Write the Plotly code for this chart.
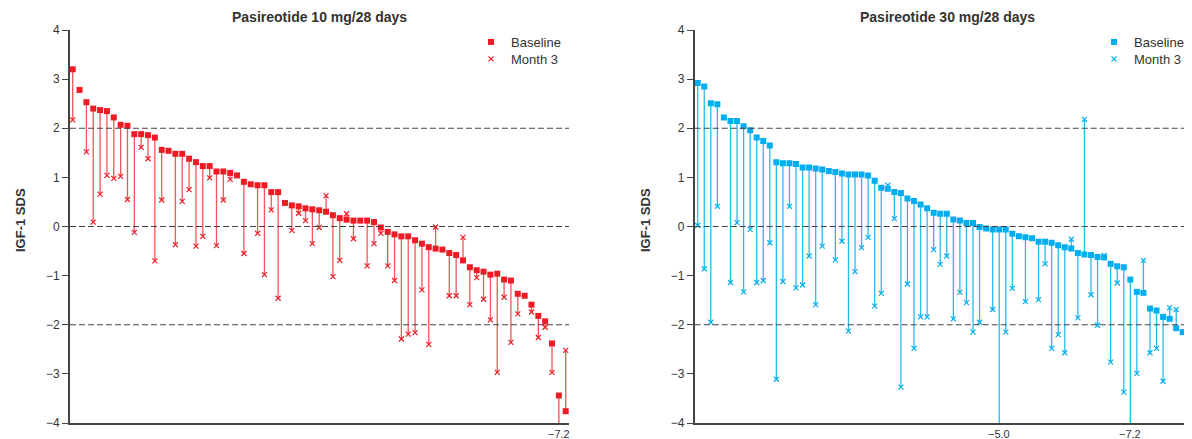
import plotly.graph_objects as go

# ---- Data: Pasireotide 10 mg/28 days (patients sorted by baseline IGF-1 SDS) ----
base_10 = [3.20, 2.78, 2.53, 2.40, 2.37, 2.35, 2.22, 2.07, 2.05, 1.88,
           1.88, 1.86, 1.81, 1.56, 1.54, 1.48, 1.48, 1.38, 1.31, 1.23,
           1.23, 1.12, 1.12, 1.09, 1.04, 0.91, 0.86, 0.84, 0.84, 0.70,
           0.70, 0.48, 0.43, 0.41, 0.37, 0.35, 0.33, 0.30, 0.23, 0.17,
           0.14, 0.12, 0.12, 0.12, 0.09, -0.02, -0.11, -0.16, -0.20, -0.20,
           -0.28, -0.35, -0.42, -0.45, -0.47, -0.54, -0.58, -0.69, -0.83, -0.89,
           -0.92, -0.98, -0.96, -1.08, -1.10, -1.37, -1.41, -1.59, -1.82, -1.93,
           -2.38, -3.44, -3.76]
m3_10 = [2.17, None, 1.52, 0.09, 0.66, 1.04, 0.98, 1.02, 0.55, -0.12,
         1.61, 1.38, -0.70, 0.54, None, -0.37, 0.51, 0.75, -0.40, -0.20,
         0.99, -0.39, 0.54, 0.96, None, -0.55, None, -0.14, -0.98, 0.34,
         -1.46, None, -0.08, 0.27, 0.12, -0.35, -0.02, 0.63, -1.02, -0.69,
         0.26, -0.25, None, -0.80, -0.35, -0.14, -0.80, -1.10, -2.29, -2.19,
         -2.16, -1.29, -2.40, -0.01, None, -1.41, -1.41, -0.22, -1.59, -1.04,
         -1.48, -1.90, -2.97, -1.44, -2.36, -1.78, None, -1.74, -2.26, -2.05,
         -2.97, -7.2, -2.52]

# ---- Data: Pasireotide 30 mg/28 days ----
base_30 = [2.92, 2.85, 2.51, 2.49, 2.22, 2.15, 2.15, 2.04, 1.96, 1.81,
           1.74, 1.65, 1.31, 1.29, 1.29, 1.27, 1.20, 1.20, 1.18, 1.16,
           1.13, 1.11, 1.08, 1.06, 1.06, 1.06, 1.04, 0.93, 0.79, 0.77,
           0.70, 0.68, 0.57, 0.52, 0.45, 0.37, 0.28, 0.26, 0.26, 0.14,
           0.12, 0.07, 0.07, -0.01, -0.04, -0.06, -0.06, -0.06, -0.15, -0.20,
           -0.22, -0.24, -0.31, -0.31, -0.33, -0.38, -0.42, -0.45, -0.54, -0.57,
           -0.58, -0.62, -0.63, -0.76, -0.81, -0.83, -1.08, -1.33, -1.35, -1.67,
           -1.71, -1.84, -1.88, -2.07, -2.15, -2.47]
m3_30 = [0.02, -0.86, -1.95, 0.41, None, -1.14, 0.08, -1.33, -0.06, -1.14,
         -1.10, -0.33, -3.11, -1.12, 0.41, -1.25, -1.19, -0.60, -1.59, -0.40,
         None, -0.68, -0.30, -2.13, -0.92, -0.43, -0.22, -1.62, -1.36, 0.84,
         0.16, -3.27, -1.17, -2.48, -1.84, -1.84, -0.47, -0.77, -0.60, -1.88,
         -1.34, -1.55, -2.15, -1.95, None, -1.69, -5.0, -2.15, -1.26, None,
         -1.53, None, -1.49, -0.76, -2.48, -2.20, -2.57, -0.26, -1.86, 2.18,
         -1.39, -2.01, -0.59, -2.76, -1.15, -3.37, -7.2, -2.99, -0.69, -2.57,
         -2.48, -3.15, -1.65, -1.69, None, -3.89]

titles = ["Pasireotide 10 mg/28 days", "Pasireotide 30 mg/28 days"]
series_names = ["Baseline", "Month 3"]
y_ticks = [-4, -3, -2, -1, 0, 1, 2, 3, 4]
ref_lines = [2, 0, -2]

# page body has an 8px margin, so the figure is sized/offset accordingly
W, H = 1184, 431
TOP, BOT = 22, 16
PH = H - TOP - BOT  # plot height in px
RED = "#ED1C24"
BLUE = "#00AEEF"
FONT = "Liberation Sans, Arial, sans-serif"


def py(px_from_top):
    """figure pixel (from top) -> paper y"""
    return (H - BOT - px_from_top) / PH


panels = [
    dict(base=base_10, m3=m3_10, color=RED, stem="rgba(237,28,36,0.75)",
         xa="x", ya="y", dom=[62 / W, 561 / W], xr=[0.606, 73.48],
         legends=["legend", "legend2"], lx=463, tx=(62 + 561) / 2),
    dict(base=base_30, m3=m3_30, color=BLUE, stem="rgba(0,174,239,0.85)",
         xa="x2", ya="y2", dom=[686.7 / W, 1.0], xr=[0.542, 76.41],
         legends=["legend3", "legend4"], lx=1086, tx=(686.7 + 1192) / 2),
]

fig = go.Figure()
annotations = []
shapes = []
legend_layout = {}

for k, p in enumerate(panels):
    n = len(p["base"])
    xs = list(range(1, n + 1))
    sx, sy = [], []
    for i, (b, m) in enumerate(zip(p["base"], p["m3"])):
        if m is None:
            continue
        sx += [xs[i], xs[i], None]
        sy += [b, m, None]
    fig.add_trace(go.Scatter(x=sx, y=sy, mode="lines", xaxis=p["xa"], yaxis=p["ya"],
                             line=dict(color=p["stem"], width=1.3),
                             showlegend=False, hoverinfo="skip"))
    fig.add_trace(go.Scatter(x=xs, y=p["m3"], mode="markers", name=series_names[1],
                             xaxis=p["xa"], yaxis=p["ya"], legend=p["legends"][1],
                             marker=dict(symbol="x-thin", size=5, color=p["color"],
                                         line=dict(color=p["color"], width=1.2))))
    fig.add_trace(go.Scatter(x=xs, y=p["base"], mode="markers", name=series_names[0],
                             xaxis=p["xa"], yaxis=p["ya"], legend=p["legends"][0],
                             marker=dict(symbol="square", size=6, color=p["color"],
                                         line=dict(width=0))))
    for j, lg in enumerate(p["legends"]):
        legend_layout[lg] = dict(x=p["lx"] / W, y=py(34 + 17 * j), xanchor="left",
                                 yanchor="middle", bgcolor="rgba(0,0,0,0)",
                                 font=dict(size=13, color="#333", family=FONT),
                                 itemwidth=30)
    # off-scale values labelled under the axis
    for i, m in enumerate(p["m3"]):
        if m is not None and m < y_ticks[0]:
            annotations.append(dict(x=xs[i], y=y_ticks[0], xref=p["xa"], yref=p["ya"],
                                    text="\u2212%.1f" % abs(m), showarrow=False,
                                    yanchor="middle", xanchor="center",
                                    yshift=-11, font=dict(size=11, color="#333", family=FONT)))
    for v in ref_lines:
        shapes.append(dict(type="line", xref=p["xa"] + " domain", yref=p["ya"],
                           x0=0, x1=1, y0=v, y1=v,
                           line=dict(color="#444", width=1.1, dash="6px,3px")))
    annotations.append(dict(x=p["tx"] / W, y=py(9), xref="paper", yref="paper",
                            xanchor="center", yanchor="middle",
                            text="<b>%s</b>" % titles[k], showarrow=False,
                            font=dict(size=14, color="#333", family=FONT)))
    annotations.append(dict(x=(12 if k == 0 else 637) / W, y=py(212), xref="paper",
                            yref="paper", xanchor="center", yanchor="middle",
                            text="<b>IGF-1 SDS</b>", textangle=-90, showarrow=False,
                            font=dict(size=13, color="#333", family=FONT)))

axis_common = dict(showgrid=False, zeroline=False, showline=True, linecolor="#444",
                   linewidth=1.6)
fig.update_layout(
    width=W, height=H, margin=dict(l=0, r=0, t=TOP, b=BOT),
    plot_bgcolor="white", paper_bgcolor="white",
    font=dict(family=FONT, size=12, color="#333"),
    xaxis=dict(domain=panels[0]["dom"], range=panels[0]["xr"], showticklabels=False,
               ticks="", **axis_common),
    xaxis2=dict(domain=panels[1]["dom"], range=panels[1]["xr"], showticklabels=False,
                ticks="", **axis_common),
    yaxis=dict(range=[-4, 4], tickvals=y_ticks, ticks="outside", ticklen=6,
               tickcolor="#444", anchor="x", **axis_common),
    yaxis2=dict(range=[-4, 4], tickvals=y_ticks, ticks="outside", ticklen=6,
                tickcolor="#444", anchor="x2", **axis_common),
    annotations=annotations, shapes=shapes,
    **legend_layout,
)

fig.write_html("out.html")
